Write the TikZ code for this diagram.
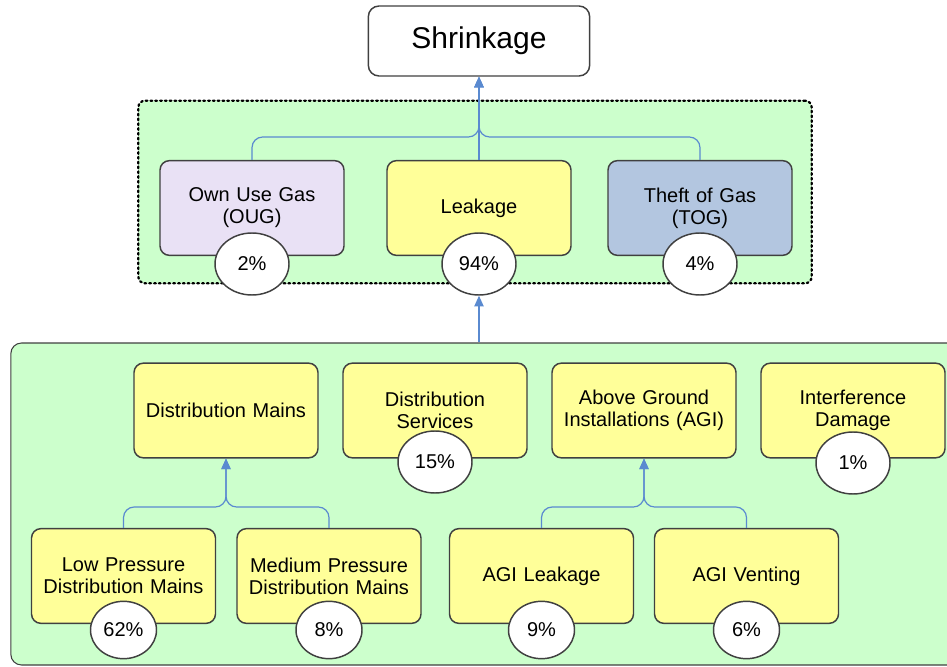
\documentclass[tikz,border=0pt]{standalone}
\usepackage{fontspec}
\setmainfont{Liberation Sans}
\usetikzlibrary{shapes.geometric,arrows.meta}
\definecolor{grpgreen}{HTML}{CCFFCC}
\definecolor{boxyellow}{HTML}{FFFF99}
\definecolor{ouglilac}{HTML}{E9E1F5}
\definecolor{togblue}{HTML}{B3C6E0}
\definecolor{linkblue}{HTML}{5A8AD0}
\definecolor{boxline}{HTML}{404040}
\begin{document}
\begin{tikzpicture}[x=0.75pt,y=-0.75pt,>={Triangle[length=8pt,width=7pt]},line width=0.9pt]
  \tikzstyle{box}=[draw=boxline, line width=1.1pt, rounded corners=7pt, fill=boxyellow,
    minimum width=138pt, minimum height=71pt, text width=130pt, align=center,
    font=\fontsize{15}{16.5}\selectfont]
  \tikzstyle{pct}=[draw=boxline, line width=1.1pt, ellipse, fill=white, inner sep=0pt,
    minimum width=55.5pt, minimum height=46.5pt, font=\fontsize{15}{16.5}\selectfont]
  \tikzstyle{pctsmall}=[pct, minimum width=49.5pt, minimum height=43pt]
  \tikzstyle{link}=[draw=linkblue, line width=0.9pt, rounded corners=8pt]

  \clip (0,0) rectangle (947,667);

  % groups
  \node[draw, dash pattern=on 1.3pt off 2.3pt, line cap=round, line width=1.7pt,
    fill=grpgreen, rounded corners=5pt, minimum width=505pt, minimum height=137pt]
    (topgrp) at (475,192) {};
  \node[draw=boxline, line width=0.8pt, fill=grpgreen, rounded corners=8pt,
    minimum width=712pt, minimum height=241.5pt] (lowgrp) at (485.5,504) {};

  % top level
  \node[draw=boxline, line width=1.1pt, fill=white, rounded corners=8pt,
    minimum width=166pt, minimum height=52.5pt, font=\fontsize{22.5}{26}\selectfont]
    (shrink) at (479,41) {Shrinkage};

  \node[box, fill=ouglilac] (oug) at (252,208) {Own Use Gas\\(OUG)};
  \node[box] (leak) at (479,208) {Leakage};
  \node[box, fill=togblue] (tog) at (700,208) {Theft of Gas\\(TOG)};

  \coordinate (jtop) at (479,137);
  \draw[link,->] (oug.north) |- (jtop) -- (shrink.south);
  \draw[link,->] (tog.north) |- (jtop) -- (shrink.south);
  \draw[link,->] (leak.north) -- (shrink.south);

  \node[pct] (ougp) at (252,264) {2\%};
  \node[pct] (leakp) at (479,264) {94\%};
  \node[pct] (togp) at (700,264) {4\%};

  \draw[link,->] (lowgrp.north -| leakp.south) -- (leakp.south);

  % leakage breakdown
  \node[box] (dmains) at (226,410.5) {Distribution Mains};
  \node[box] (dserv) at (435,410.5) {Distribution\\Services};
  \node[box] (agi) at (644,410.5) {Above Ground\\Installations (AGI)};
  \node[box] (idmg) at (853,410.5) {Interference\\Damage};

  \node[box] (lpmains) at (123.5,576) {Low Pressure\\Distribution Mains};
  \node[box] (mpmains) at (329,576) {Medium Pressure\\Distribution Mains};
  \node[box] (agileak) at (541.5,576) {AGI Leakage};
  \node[box] (agivent) at (746.5,576) {AGI Venting};

  \coordinate (jmains) at (226,507);
  \coordinate (jagi) at (644,507);
  \draw[link,->] (lpmains.north) |- (jmains) -- (dmains.south);
  \draw[link,->] (mpmains.north) |- (jmains) -- (dmains.south);
  \draw[link,->] (agileak.north) |- (jagi) -- (agi.south);
  \draw[link,->] (agivent.north) |- (jagi) -- (agi.south);

  \node[pct] (dservp) at (435,462) {15\%};
  \node[pct] (idmgp) at (853,463) {1\%};
  \node[pctsmall] (lpp) at (123.5,630) {62\%};
  \node[pctsmall] (mpp) at (329,630) {8\%};
  \node[pctsmall] (agileakp) at (541.5,630) {9\%};
  \node[pctsmall] (agiventp) at (746.5,630) {6\%};
\end{tikzpicture}
\end{document}
